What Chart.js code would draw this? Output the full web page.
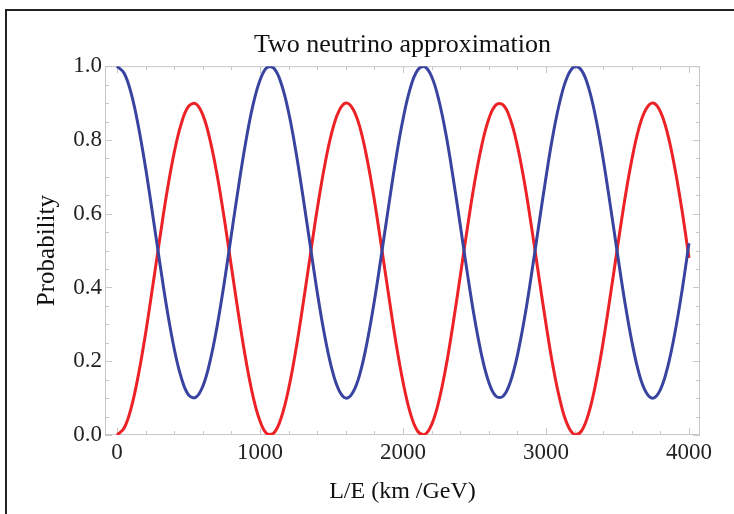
<!DOCTYPE html>
<html>
<head>
<meta charset="utf-8">
<title>Two neutrino approximation</title>
<script src="https://cdn.jsdelivr.net/npm/chart.js@4.4.1/dist/chart.umd.min.js"></script>
<style>
  html, body { margin: 0; padding: 0; background: #fff; overflow: hidden; }
  canvas { display: block; }
</style>
</head>
<body>
<canvas id="chart" width="734" height="514"></canvas>
<script>
/* ======================
   DATA
====================== */
const TITLE = "Two neutrino approximation";
const X_LABEL = "L/E (km /GeV)";
const Y_LABEL = "Probability";

// L/E sample positions (km/GeV)
const lePoints = [
  0, 50, 100, 150, 200, 250, 300, 350, 400, 450,
  500, 550, 600, 650, 700, 750, 800, 850, 900, 950,
  1000, 1050, 1100, 1150, 1200, 1250, 1300, 1350, 1400, 1450,
  1500, 1550, 1600, 1650, 1700, 1750, 1800, 1850, 1900, 1950,
  2000, 2050, 2100, 2150, 2200, 2250, 2300, 2350, 2400, 2450,
  2500, 2550, 2600, 2650, 2700, 2750, 2800, 2850, 2900, 2950,
  3000, 3050, 3100, 3150, 3200, 3250, 3300, 3350, 3400, 3450,
  3500, 3550, 3600, 3650, 3700, 3750, 3800, 3850, 3900, 3950,
  4000
];

// survival probability (blue)
const survival = [
  1.000, 0.981, 0.925, 0.836, 0.724, 0.596, 0.465, 0.340, 0.234, 0.155,
  0.109, 0.102, 0.132, 0.199, 0.295, 0.413, 0.544, 0.674, 0.794, 0.893,
  0.962, 0.997, 0.993, 0.951, 0.875, 0.771, 0.648, 0.517, 0.388, 0.274,
  0.183, 0.123, 0.100, 0.116, 0.168, 0.254, 0.364, 0.491, 0.622, 0.748,
  0.856, 0.939, 0.988, 0.999, 0.972, 0.909, 0.816, 0.699, 0.570, 0.439,
  0.317, 0.216, 0.143, 0.105, 0.105, 0.143, 0.216, 0.317, 0.439, 0.570,
  0.699, 0.816, 0.909, 0.972, 0.999, 0.988, 0.939, 0.856, 0.748, 0.622,
  0.491, 0.364, 0.254, 0.168, 0.116, 0.100, 0.123, 0.183, 0.274, 0.388,
  0.520
];

// oscillation probability (red)
const oscillation = [
  0.000, 0.019, 0.075, 0.164, 0.276, 0.404, 0.535, 0.660, 0.766, 0.845,
  0.891, 0.898, 0.868, 0.801, 0.705, 0.587, 0.456, 0.326, 0.206, 0.107,
  0.038, 0.003, 0.007, 0.049, 0.125, 0.229, 0.352, 0.483, 0.612, 0.726,
  0.817, 0.877, 0.900, 0.884, 0.832, 0.746, 0.636, 0.509, 0.378, 0.252,
  0.144, 0.061, 0.012, 0.001, 0.028, 0.091, 0.184, 0.301, 0.430, 0.561,
  0.683, 0.784, 0.857, 0.895, 0.895, 0.857, 0.784, 0.683, 0.561, 0.430,
  0.301, 0.184, 0.091, 0.028, 0.001, 0.012, 0.061, 0.144, 0.252, 0.378,
  0.509, 0.636, 0.746, 0.832, 0.884, 0.900, 0.877, 0.817, 0.726, 0.612,
  0.480
];

const xTicks = [0, 1000, 2000, 3000, 4000];
const xMinorStep = 200;
const yTicks = [0.0, 0.2, 0.4, 0.6, 0.8, 1.0];
const yMinorStep = 0.05;

/* ======================
   STYLE
====================== */
const SERIF = '"Liberation Serif", "DejaVu Serif", "Times New Roman", serif';
const BLUE = "#3844a0";
const RED = "#ec2226";
const FRAME = "#c8c8c8";

function toPoints(ys) {
  return lePoints.map((x, i) => ({ x, y: ys[i] }));
}

/* ======================
   PAGE BORDER (top + left only)
====================== */
const pageBorderPlugin = {
  id: "pageBorder",
  afterDraw(chart) {
    const { ctx, width } = chart;
    ctx.save();
    ctx.fillStyle = "#222";
    ctx.fillRect(5, 9, width - 5, 2);
    ctx.fillRect(5, 9, 2, chart.height - 9);
    ctx.restore();
  }
};

/* ======================
   FRAME WITH INSIDE TICKS
====================== */
const framePlugin = {
  id: "frameTicks",
  beforeDatasetsDraw(chart) {
    const { ctx, chartArea: a, scales: { x, y } } = chart;
    ctx.save();
    ctx.strokeStyle = FRAME;
    ctx.lineWidth = 1;
    ctx.strokeRect(a.left + 0.5, a.top + 0.5, a.right - a.left - 1, a.bottom - a.top - 1);

    ctx.beginPath();
    for (let v = xTicks[0]; v <= xTicks[xTicks.length - 1] + 1e-9; v += xMinorStep) {
      const px = Math.round(x.getPixelForValue(v)) + 0.5;
      const len = xTicks.includes(v) ? 7 : 4;
      ctx.moveTo(px, a.bottom); ctx.lineTo(px, a.bottom - len);
      ctx.moveTo(px, a.top); ctx.lineTo(px, a.top + len);
    }
    for (let k = 0; k <= Math.round(1 / yMinorStep); k++) {
      const v = k * yMinorStep;
      const py = Math.round(y.getPixelForValue(v)) + 0.5;
      const len = (k % 4 === 0) ? 7 : 4;
      ctx.moveTo(a.left, py); ctx.lineTo(a.left + len, py);
      ctx.moveTo(a.right, py); ctx.lineTo(a.right - len, py);
    }
    ctx.stroke();
    ctx.restore();
  }
};

/* ======================
   CHART
====================== */
new Chart(document.getElementById("chart"), {
  type: "line",
  data: {
    datasets: [
      {
        label: "Survival",
        data: toPoints(survival),
        borderColor: BLUE,
        borderWidth: 3,
        pointRadius: 0,
        tension: 0.4
      },
      {
        label: "Oscillation",
        data: toPoints(oscillation),
        borderColor: RED,
        borderWidth: 3,
        pointRadius: 0,
        tension: 0.4
      }
    ]
  },
  options: {
    responsive: false,
    animation: false,
    layout: { padding: { left: 0, right: 34, top: 0, bottom: 0 } },
    plugins: {
      legend: { display: false },
      tooltip: { enabled: false },
      title: {
        display: true,
        text: TITLE,
        fullSize: false,
        color: "#111",
        font: { family: SERIF, size: 26, weight: "normal" },
        padding: { top: 30, bottom: 5 }
      }
    },
    scales: {
      x: {
        type: "linear",
        min: -84,
        max: 4077,
        afterFit(scale) { scale.height = 79; },
        afterBuildTicks(scale) { scale.ticks = xTicks.map(v => ({ value: v })); },
        grid: { display: false, drawTicks: false },
        border: { display: false },
        ticks: {
          color: "#222",
          padding: 4,
          maxRotation: 0,
          font: { family: SERIF, size: 23 },
          callback: v => String(v)
        },
        title: {
          display: true,
          text: X_LABEL,
          color: "#111",
          font: { family: SERIF, size: 24 },
          padding: { top: 0, bottom: 8 }
        }
      },
      y: {
        min: 0,
        max: 1,
        afterFit(scale) { scale.width = 105; },
        afterBuildTicks(scale) { scale.ticks = yTicks.map(v => ({ value: v })); },
        grid: { display: false, drawTicks: false },
        border: { display: false },
        ticks: {
          color: "#222",
          padding: 3,
          font: { family: SERIF, size: 23 },
          callback: v => Number(v).toFixed(1)
        },
        title: {
          display: true,
          text: Y_LABEL,
          color: "#111",
          font: { family: SERIF, size: 25 },
          padding: { top: 32, bottom: 0 }
        }
      }
    }
  },
  plugins: [framePlugin, pageBorderPlugin]
});
</script>
</body>
</html>
